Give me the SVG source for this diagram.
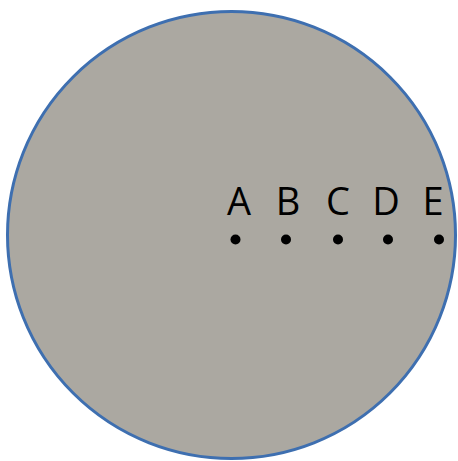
<svg xmlns="http://www.w3.org/2000/svg" width="458" height="461" viewBox="0 0 458 461">
<style>
.lbl{font-family:"Open Sans","Noto Sans",sans-serif;font-size:38px;fill:#000;text-anchor:middle}
.dot{fill:#000}
</style>
<rect width="458" height="461" fill="#fff"/>
<g id="disk">
<ellipse cx="231.5" cy="235" rx="224" ry="223.5" fill="#ABA8A1" stroke="#3E6FB0" stroke-width="3"/>
</g>
<g id="connectors"></g>
<g id="pA"><text class="lbl" x="239" y="215">A</text><circle class="dot" cx="235.5" cy="239.5" r="5"/></g>
<g id="pB"><text class="lbl" x="288" y="215">B</text><circle class="dot" cx="286" cy="239.5" r="5"/></g>
<g id="pC"><text class="lbl" x="338" y="215">C</text><circle class="dot" cx="338" cy="239.5" r="5"/></g>
<g id="pD"><text class="lbl" x="386" y="215">D</text><circle class="dot" cx="388" cy="239.5" r="5"/></g>
<g id="pE"><text class="lbl" x="433" y="215">E</text><circle class="dot" cx="439" cy="239.5" r="5"/></g>
</svg>
